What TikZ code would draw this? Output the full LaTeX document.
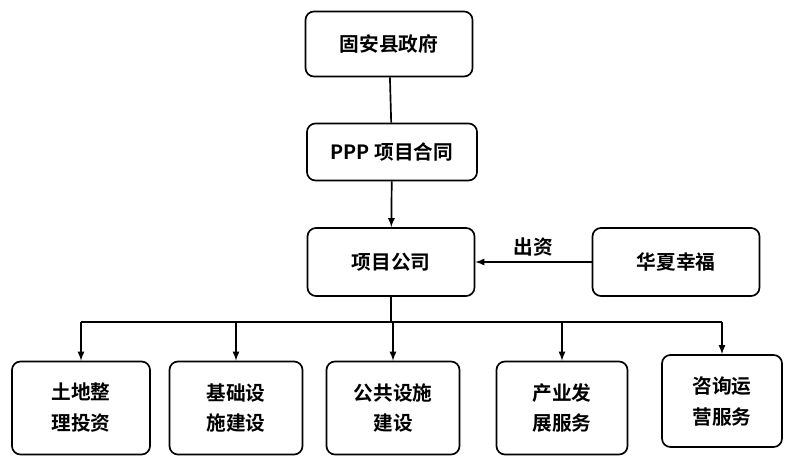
\documentclass[tikz,border=0pt]{standalone}
\usepackage{fontspec}
\newfontfamily\cjk{Noto Sans CJK SC}[BoldFont={Noto Sans CJK SC Bold}]
\usetikzlibrary{positioning}
\tikzset{
  box/.style={draw=black,line width=1.2pt,rounded corners=6pt,fill=white,
    font=\cjk\bfseries\fontsize{14}{22}\selectfont,align=center},
  link/.style={line width=1.2pt,-latex}
}
\begin{document}
\begin{tikzpicture}[x=0.025cm,y=-0.025cm]
\useasboundingbox (0,0) rectangle (800,471);
\node[box,minimum width=167*0.025cm,minimum height=65*0.025cm] (gov) at (389,44) {固安县政府};
\node[box,minimum width=170*0.025cm,minimum height=57*0.025cm] (ppp) at (392,152) {PPP 项目合同};
\node[box,minimum width=167*0.025cm,minimum height=68*0.025cm] (corp) at (391,262) {项目公司};
\node[box,minimum width=167*0.025cm,minimum height=68*0.025cm] (hx) at (676,262) {华夏幸福};
\node[box,minimum width=138*0.025cm,minimum height=93*0.025cm] (b1) at (81,408) {土地整\\理投资};
\node[box,minimum width=133*0.025cm,minimum height=93*0.025cm] (b2) at (236,408) {基础设\\施建设};
\node[box,minimum width=133*0.025cm,minimum height=93*0.025cm] (b3) at (393,408) {公共设施\\建设};
\node[box,minimum width=131*0.025cm,minimum height=93*0.025cm] (b4) at (562,408) {产业发\\展服务};
\node[box,minimum width=120*0.025cm,minimum height=92*0.025cm] (b5) at (722,401) {咨询运\\营服务};
\coordinate (bus) at (391,322);

\draw[line width=1.2pt] (gov) -- (ppp);
\draw[link] (ppp) -- (corp);
\draw[link] (hx) -- node[above,font=\cjk\bfseries\fontsize{14}{18}\selectfont]{出资} (corp);
\draw[line width=1.2pt] (corp) -- (bus);
\draw[line width=1.2pt] (b1.north |- bus) -- (b5.north |- bus);
\foreach \b in {b1,b2,b3,b4,b5}
  \draw[link] (\b.north |- bus) -- (\b.north);
\end{tikzpicture}
\end{document}
